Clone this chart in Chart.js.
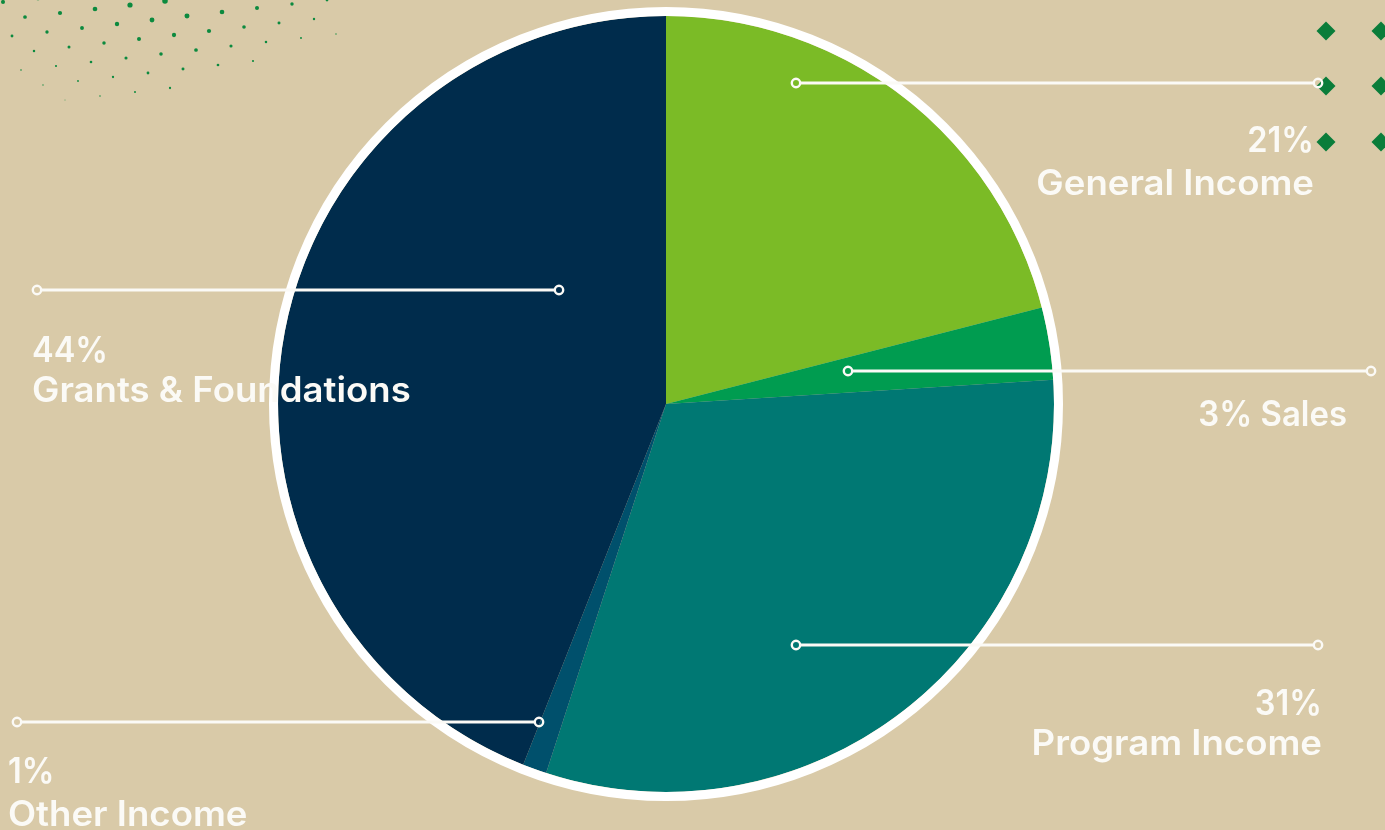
<!DOCTYPE html>
<html>
<head>
<meta charset="utf-8">
<script src="https://cdn.jsdelivr.net/npm/chart.js@4/dist/chart.umd.min.js"></script>
<style>
  html, body { margin: 0; padding: 0; background: #d9caa8; }
  #wrap { width: 1385px; height: 830px; position: relative; }
</style>
</head>
<body>
<div id="wrap"><canvas id="c" width="1385" height="830"></canvas></div>
<script>
// ---- data ----
const categories = ['General Income', 'Sales', 'Program Income', 'Other Income', 'Grants & Foundations'];
const percentages = [21, 3, 31, 1, 44];
const sliceColors = ['#7bbb26', '#009c50', '#007873', '#00506c', '#002c4c'];

// ---- label layout (annotation placement, not data) ----
const labelLayout = [
  { dx: 130, dy: -321, len: 522, dir: 1, tx: 1314, lines: [[152, 'pct'], [195, 'name']], align: 'right' },
  { dx: 182, dy: -33, len: 523, dir: 1, tx: 1347, lines: [[426, 'both']], align: 'right' },
  { dx: 130, dy: 241, len: 522, dir: 1, tx: 1322, lines: [[715, 'pct'], [755, 'name']], align: 'right' },
  { dx: -127, dy: 318, len: 522, dir: -1, tx: 8, lines: [[783, 'pct'], [826, 'name']], align: 'left' },
  { dx: -107, dy: -114, len: 522, dir: -1, tx: 32, lines: [[362, 'pct'], [402, 'name']], align: 'left' }
];

const BG = '#d9caa8';
const WHITE = '#fbfaf6';
const FONT = '600 35px "Inter", "Open Sans", sans-serif';
const STRETCH = { pct: 0.93, name: 1.045, both: 0.94 };

const decorPlugin = {
  id: 'decor',
  beforeDraw(chart) {
    const ctx = chart.ctx;
    ctx.save();
    ctx.fillStyle = BG;
    ctx.fillRect(0, 0, chart.width, chart.height);
    ctx.fillStyle = '#0c8a3e';
    for (let i = -6; i < 16; i++) {
      for (let j = -2; j < 8; j++) {
        const x = 25 + 35 * i - 13 * j;
        const y = 17 - 4 * i + 19 * j;
        if (x < -3 || x > 345 || y < -3 || y > 100) continue;
        if (y > 60 + 0.9 * x) continue;
        if (y > 110 - (x - 100) * 0.3) continue;
        const r = 2.8 - 0.019 * y - 0.005 * Math.max(0, 150 - x) - 0.011 * Math.max(0, x - 200);
        if (r < 0.45) continue;
        ctx.beginPath();
        ctx.arc(x, y, r, 0, Math.PI * 2);
        ctx.fill();
      }
    }
    ctx.fillStyle = '#0a7d3a';
    const cols = [1326, 1381], rows = [31, 86, 142];
    for (const cx of cols) for (const cy of rows) {
      ctx.beginPath();
      ctx.moveTo(cx, cy - 9.5);
      ctx.lineTo(cx + 9.5, cy);
      ctx.lineTo(cx, cy + 9.5);
      ctx.lineTo(cx - 9.5, cy);
      ctx.closePath();
      ctx.fill();
    }
    ctx.restore();
  },
  afterDatasetsDraw(chart) {
    const ctx = chart.ctx;
    const arc = chart.getDatasetMeta(0).data[0];
    const cx = arc.x, cy = arc.y, R = arc.outerRadius;
    ctx.save();
    ctx.strokeStyle = '#ffffff';
    ctx.lineWidth = 9;
    ctx.beginPath();
    ctx.arc(cx, cy, R + 4.5, 0, Math.PI * 2);
    ctx.stroke();

    const cr = 4.2;
    ctx.strokeStyle = WHITE;
    labelLayout.forEach((L) => {
      const x1 = cx + L.dx, y1 = cy + L.dy;
      const x2 = x1 + L.dir * L.len;
      ctx.lineWidth = 3;
      ctx.beginPath();
      ctx.moveTo(x1 + L.dir * cr, y1);
      ctx.lineTo(x2 - L.dir * cr, y1);
      ctx.stroke();
      ctx.lineWidth = 2.4;
      [x1, x2].forEach((px) => {
        ctx.beginPath();
        ctx.arc(px, y1, cr, 0, Math.PI * 2);
        ctx.stroke();
      });
    });

    ctx.fillStyle = WHITE;
    ctx.font = FONT;
    ctx.textBaseline = 'alphabetic';
    labelLayout.forEach((L, i) => {
      ctx.textAlign = L.align;
      L.lines.forEach(([y, kind]) => {
        let t;
        if (kind === 'pct') t = percentages[i] + '%';
        else if (kind === 'name') t = categories[i];
        else t = percentages[i] + '% ' + categories[i];
        ctx.save();
        ctx.translate(L.tx, y);
        ctx.scale(STRETCH[kind], 1);
        ctx.fillText(t, 0, 0);
        ctx.restore();
      });
    });
    ctx.restore();
  }
};

new Chart(document.getElementById('c'), {
  type: 'pie',
  data: {
    labels: categories,
    datasets: [{
      data: percentages,
      backgroundColor: sliceColors,
      borderWidth: 0,
      hoverOffset: 0
    }]
  },
  options: {
    responsive: false,
    animation: false,
    layout: { padding: { top: 16, bottom: 38, left: 0, right: 53 } },
    plugins: { legend: { display: false }, tooltip: { enabled: false } }
  },
  plugins: [decorPlugin]
});
</script>
</body>
</html>
